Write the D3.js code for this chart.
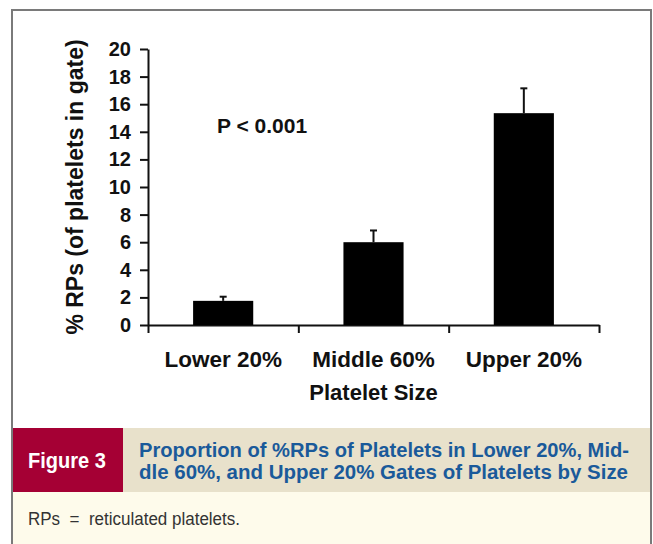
<!DOCTYPE html>
<html>
<head>
<meta charset="utf-8">
<script src="https://cdn.jsdelivr.net/npm/d3@7"></script>
<style>
  body { margin: 0; background: #fff; }
  svg { display: block; }
</style>
</head>
<body>
<div id="chart"></div>
<script>
// data
const categories = ["Lower 20%", "Middle 60%", "Upper 20%"];
const means = [1.75, 6.0, 15.35];
const errors = [0.3, 0.85, 1.8];
const yTicks = [0, 2, 4, 6, 8, 10, 12, 14, 16, 18, 20];
const yTitle = "% RPs (of platelets in gate)";
const xTitle = "Platelet Size";
const pLabel = "P < 0.001";
const figLabel = "Figure 3";
const captionLines = ["Proportion of %RPs of Platelets in Lower 20%, Mid-", "dle 60%, and Upper 20% Gates of Platelets by Size"];
const footnote = "RPs  =  reticulated platelets.";

const W = 653, H = 544;
const svg = d3.select("#chart").append("svg").attr("width", W).attr("height", H);

// frame + caption panels
svg.append("rect").attr("x", 12).attr("y", 428).attr("width", 639).attr("height", 64).attr("fill", "#e8e1cb");
svg.append("rect").attr("x", 12).attr("y", 492).attr("width", 639).attr("height", 60).attr("fill", "#fefbeb");
svg.append("rect").attr("x", 12).attr("y", 428).attr("width", 111).attr("height", 64).attr("fill", "#a50034");
svg.append("path").attr("d", "M12,546V10H651V546").attr("fill", "none").attr("stroke", "#7a7a7a").attr("stroke-width", 2);

const narrow = "'Liberation Sans Narrow', 'Arial Narrow', 'Liberation Sans', Arial, sans-serif";
svg.append("text").attr("x", 28).attr("y", 468)
    .attr("font-family", narrow).attr("font-weight", "bold").attr("font-size", 22.5)
    .attr("fill", "#fff").attr("textLength", 78).attr("lengthAdjust", "spacingAndGlyphs").text(figLabel);
captionLines.forEach((t, i) => {
    svg.append("text").attr("x", 139).attr("y", 456.5 + i * 22.5)
        .attr("font-family", narrow).attr("font-weight", "bold").attr("font-size", 21)
        .attr("fill", "#1a5a9a").attr("textLength", i === 0 ? 490 : 489).attr("lengthAdjust", "spacingAndGlyphs")
        .text(t);
});
svg.append("text").attr("x", 28).attr("y", 524.5)
    .attr("font-family", narrow).attr("font-size", 17.5)
    .attr("fill", "#333").attr("textLength", 212).attr("lengthAdjust", "spacingAndGlyphs")
    .attr("xml:space", "preserve").style("white-space", "pre")
    .text(footnote);

// chart
const mLeft = 148, mRight = 599, mTop = 49, mBottom = 325;
const x = d3.scaleBand().domain(categories).range([mLeft, mRight]).paddingInner(0.6).paddingOuter(0.3);
const xEdges = d3.scaleLinear().domain([0, categories.length]).range([mLeft, mRight]);
const y = d3.scaleLinear().domain([0, 20]).range([mBottom, mTop]);
const font = "'Liberation Sans', Arial, Helvetica, sans-serif";

const yAxis = svg.append("g").attr("transform", `translate(${mLeft},0)`)
    .call(d3.axisLeft(y).tickValues(yTicks).tickSize(8).tickSizeOuter(0).tickPadding(9));
yAxis.selectAll("text").attr("font-family", font).attr("font-weight", "bold").attr("font-size", 20).attr("fill", "#111");

const xAxis = svg.append("g").attr("transform", `translate(0,${mBottom})`)
    .call(d3.axisBottom(xEdges).tickValues(d3.range(categories.length + 1)).tickFormat("").tickSize(8).tickSizeOuter(0));

[yAxis, xAxis].forEach(g => {
    g.selectAll("path,line").attr("stroke", "#111").attr("stroke-width", 2);
});

svg.append("g").selectAll("rect").data(means).join("rect")
    .attr("x", (d, i) => x(categories[i]))
    .attr("y", d => y(d))
    .attr("width", x.bandwidth())
    .attr("height", d => y(0) - y(d))
    .attr("fill", "#000");

const eb = svg.append("g").attr("stroke", "#111").attr("stroke-width", 2);
means.forEach((m, i) => {
    const cx = x(categories[i]) + x.bandwidth() / 2;
    eb.append("line").attr("x1", cx).attr("x2", cx).attr("y1", y(m)).attr("y2", y(m + errors[i]));
    eb.append("line").attr("x1", cx - 3.5).attr("x2", cx + 3.5).attr("y1", y(m + errors[i])).attr("y2", y(m + errors[i]));
});

svg.append("g").selectAll("text").data(categories).join("text")
    .attr("x", d => x(d) + x.bandwidth() / 2).attr("y", 367)
    .attr("text-anchor", "middle").attr("font-family", font).attr("font-weight", "bold")
    .attr("font-size", 22.5).attr("fill", "#111").text(d => d);

svg.append("text").attr("x", xEdges(1.5)).attr("y", 400).attr("text-anchor", "middle")
    .attr("font-family", font).attr("font-weight", "bold").attr("font-size", 22).attr("fill", "#111").text(xTitle);

svg.append("text").attr("transform", `translate(83,${(mTop + mBottom) / 2}) rotate(-90)`)
    .attr("text-anchor", "middle").attr("font-family", font).attr("font-weight", "bold")
    .attr("font-size", 23).attr("fill", "#111").text(yTitle);

svg.append("text").attr("x", 217).attr("y", y(13.9)).attr("font-family", font).attr("font-weight", "bold")
    .attr("font-size", 21).attr("fill", "#111").text(pLabel);
</script>
</body>
</html>
